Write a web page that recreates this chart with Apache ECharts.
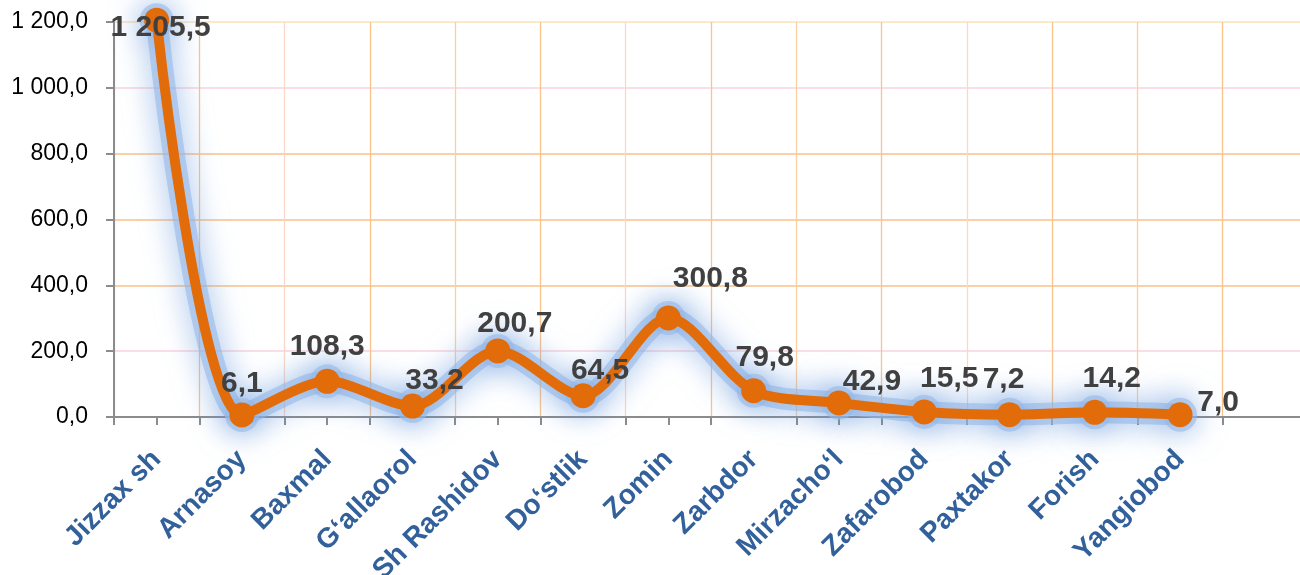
<!DOCTYPE html>
<html lang="en">
<head>
    <meta charset="UTF-8">
    <title>tumanlar</title>
    <script src="https://cdn.jsdelivr.net/npm/echarts@6/dist/echarts.min.js"></script>
    <style>
        html, body { margin: 0; padding: 0; background: #fff; }
    </style>
</head>
<body>
<div id="chart_line" style="width: 1300px;height: 575px"></div>
<script>
    // districts, last one is an empty slot that the axis keeps at the right
    var districts = ['Jizzax sh', 'Arnasoy', 'Baxmal', 'G\u2018allaorol', 'Sh Rashidov', 'Do\u2018stlik', 'Zomin',
        'Zarbdor', 'Mirzacho\u2018l', 'Zafarobod', 'Paxtakor', 'Forish', 'Yangiobod', ''];
    var values = [1205.5, 6.1, 108.3, 33.2, 200.7, 64.5, 300.8, 79.8, 42.9, 15.5, 7.2, 14.2, 7.0];
    var yTicks = [0, 200, 400, 600, 800, 1000, 1200];

    // label nudges (x, y) relative to the point
    var nudge = [[4, 45], [0, 6], [0, 3], [22, 12], [17, 10], [17, 12], [42, -2],
        [11, 5], [33, 16], [25, 4], [-6, 3], [17, 4], [38, 26]];

    function fmt(v) {
        var s = v.toFixed(1).split('.');
        var whole = s[0].replace(/\B(?=(\d{3})+(?!\d))/g, ' ');
        return whole + ',' + s[1];
    }

    var points = values.map(function (v, i) {
        return {
            value: v,
            label: { offset: nudge[i] }
        };
    });

    var chart_line = echarts.init(document.getElementById('chart_line'));
    chart_line.setOption({
        animation: false,
        grid: { left: 114, right: -8, top: 22, bottom: 158, outerBoundsMode: 'none', containLabel: false },
        xAxis: [{
            type: 'category',
            data: districts,
            boundaryGap: true,
            axisLine: { lineStyle: { color: '#8c8c8c', width: 2 } },
            axisTick: { show: true, length: 8, lineStyle: { color: '#8c8c8c', width: 2 } },
            splitLine: {
                show: true,
                lineStyle: { color: ['#fbd0a0', '#f9c48c', '#fad7c8', '#f9c48c'], width: 1.3 }
            },
            axisLabel: {
                interval: 0,
                rotate: 45,
                margin: 38,
                color: '#32609a',
                fontFamily: 'Liberation Sans, Arial',
                fontWeight: 'bold',
                fontSize: 28
            }
        }, {
            type: 'category',
            data: districts,
            position: 'bottom',
            boundaryGap: true,
            axisLine: { show: false },
            axisTick: { show: true, alignWithLabel: true, length: 8, lineStyle: { color: '#8c8c8c', width: 2 } },
            axisLabel: { show: false },
            splitLine: { show: false }
        }],
        yAxis: {
            type: 'value',
            min: yTicks[0],
            max: yTicks[yTicks.length - 1],
            interval: 200,
            axisLine: { show: true, lineStyle: { color: '#8c8c8c', width: 2 } },
            axisTick: { show: true, length: 8, lineStyle: { color: '#8c8c8c', width: 2 } },
            splitLine: {
                lineStyle: {
                    color: ['#f5c48a', '#fbd2dc', '#f9c088', '#f9c088', '#f9c088', '#fbd2dc', '#fde0b8'],
                    width: 1.5
                }
            },
            axisLabel: {
                color: '#000',
                fontFamily: 'Liberation Sans, Arial',
                fontSize: 23,
                margin: 26,
                formatter: fmt
            }
        },
        series: [{
            // soft blue glow under the line
            type: 'line',
            data: values,
            smooth: 0.3,
            clip: false,
            silent: true,
            symbol: 'circle',
            symbolSize: 34,
            itemStyle: {
                color: 'rgba(150,185,232,0.6)',
                shadowColor: 'rgba(100,150,220,1)',
                shadowBlur: 30
            },
            lineStyle: {
                color: 'rgba(150,185,232,0.6)',
                width: 22,
                shadowColor: 'rgba(100,150,220,1)',
                shadowBlur: 30
            },
            label: { show: false },
            z: 1
        }, {
            type: 'line',
            data: points,
            smooth: 0.3,
            clip: false,
            symbol: 'circle',
            symbolSize: 25,
            lineStyle: {
                color: '#e36c0a',
                width: 10
            },
            itemStyle: {
                color: '#e36c0a'
            },
            label: {
                show: true,
                position: 'top',
                distance: 10,
                color: '#404040',
                fontFamily: 'Liberation Sans, Arial',
                fontWeight: 'bold',
                fontSize: 30,
                formatter: function (p) { return fmt(p.value); }
            },
            z: 3
        }]
    });
</script>
</body>
</html>
